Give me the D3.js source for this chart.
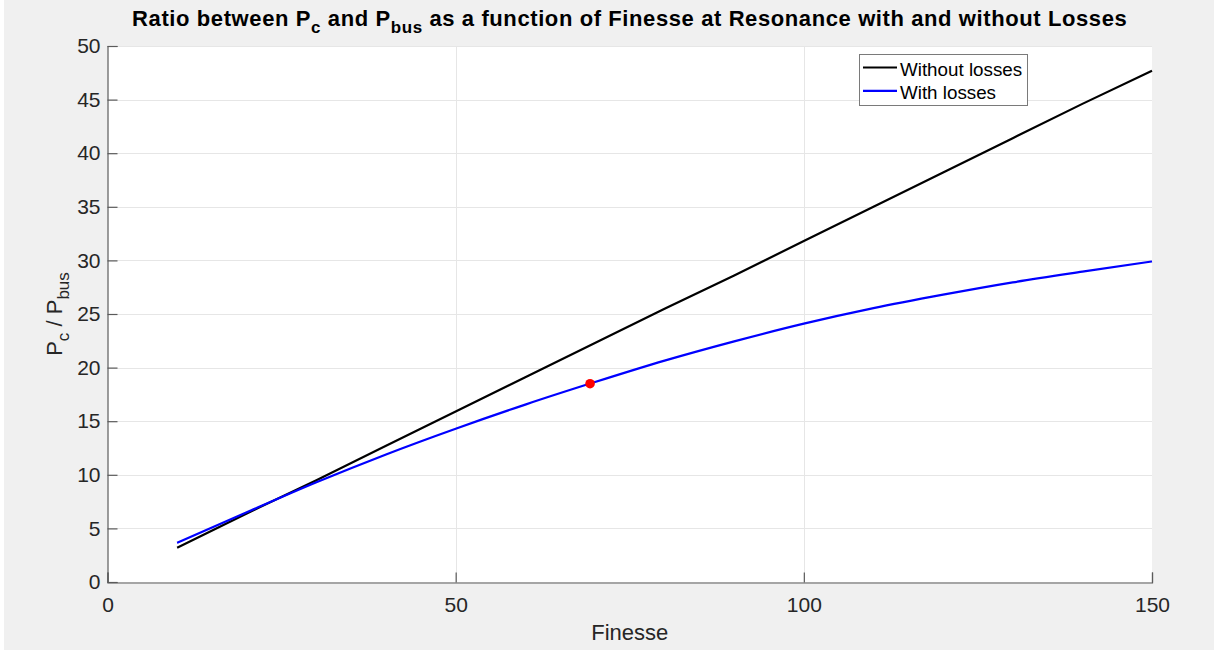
<!DOCTYPE html>
<html>
<head>
<meta charset="utf-8">
<script src="https://cdn.jsdelivr.net/npm/d3@7"></script>
<style>
  body { margin: 0; background: #fff; }
  svg text { font-family: "Liberation Sans", Arial, Helvetica, sans-serif; }
</style>
</head>
<body>
<svg id="chart" width="1214" height="653"></svg>
<script>
// values
const finesse = [10, 20, 30, 40, 50, 60, 70, 80, 90, 100, 110, 120, 130, 140, 150];
const withoutLosses = [3.2, 6.4, 9.5, 12.7, 15.9, 19.1, 22.3, 25.5, 28.6, 31.8, 35.0, 38.2, 41.4, 44.6, 47.7];
const withLosses = [3.65, 6.5, 9.3, 11.9, 14.3, 16.55, 18.65, 20.65, 22.45, 24.1, 25.55, 26.8, 27.95, 28.95, 29.9];
const marker = [69.3, 18.5];
const xTicks = [0, 50, 100, 150];
const yTicks = [0, 5, 10, 15, 20, 25, 30, 35, 40, 45, 50];
const legendLabels = ["Without losses", "With losses"];

const svg = d3.select("#chart");
const margin = { left: 107.5, right: 1152, top: 46, bottom: 582 };

// figure background
svg.append("rect")
    .attr("x", 4).attr("y", 0)
    .attr("width", 1210).attr("height", 650)
    .attr("fill", "#f0f0f0");

const x = d3.scaleLinear().domain([0, 150]).range([margin.left, margin.right]);
const y = d3.scaleLinear().domain([0, 50]).range([margin.bottom, margin.top]);

// axes area
svg.append("rect")
    .attr("x", x(0)).attr("y", y(50))
    .attr("width", x(150) - x(0)).attr("height", y(0) - y(50))
    .attr("fill", "#fff");

// grid
const grid = svg.append("g").attr("stroke", "#e6e6e6").attr("stroke-width", 1);
grid.selectAll(".gx").data(xTicks.filter(d => d > 0 && d < 150)).enter()
    .append("line")
    .attr("x1", d => Math.round(x(d)) + 0.5).attr("x2", d => Math.round(x(d)) + 0.5)
    .attr("y1", y(0)).attr("y2", y(50));
grid.selectAll(".gy").data(yTicks.filter(d => d > 0)).enter()
    .append("line")
    .attr("y1", d => Math.round(y(d)) + 0.5).attr("y2", d => Math.round(y(d)) + 0.5)
    .attr("x1", x(0)).attr("x2", x(150));

// axes with inward ticks
const xAxis = svg.append("g")
    .attr("transform", `translate(0,${y(0) + 0.5})`)
    .call(d3.axisBottom(x).tickValues(xTicks).tickSize(-10).tickPadding(14));
const yAxis = svg.append("g")
    .attr("transform", `translate(${x(0)},0)`)
    .call(d3.axisLeft(y).tickValues(yTicks).tickSize(-10).tickPadding(7));

[xAxis, yAxis].forEach(ax => {
    ax.select(".domain").attr("stroke", "#5a5a5a").attr("stroke-width", 1.2);
    ax.selectAll(".tick line").attr("stroke", "#5a5a5a").attr("stroke-width", 1.2);
    ax.selectAll(".tick text")
        .attr("font-size", 21)
        .attr("fill", "#262626")
        .attr("font-family", "Liberation Sans, Arial, sans-serif");
});
xAxis.selectAll(".tick text").attr("dy", "0.72em");

// lines
const line = d3.line().x(d => x(d[0])).y(d => y(d[1]));
const smooth = d3.line().x(d => x(d[0])).y(d => y(d[1])).curve(d3.curveMonotoneX);

svg.append("path")
    .datum(finesse.map((f, i) => [f, withoutLosses[i]]))
    .attr("d", line)
    .attr("fill", "none")
    .attr("stroke", "#000")
    .attr("stroke-width", 2.2);

svg.append("path")
    .datum(finesse.map((f, i) => [f, withLosses[i]]))
    .attr("d", smooth)
    .attr("fill", "none")
    .attr("stroke", "#0000ff")
    .attr("stroke-width", 2.2);

svg.append("circle")
    .attr("cx", x(marker[0])).attr("cy", y(marker[1]))
    .attr("r", 4.8)
    .attr("fill", "#ff0000");

// title with subscripts
const title = svg.append("text")
    .attr("x", (margin.left + margin.right) / 2)
    .attr("y", 26)
    .attr("text-anchor", "middle")
    .attr("font-size", 22)
    .attr("letter-spacing", 0.6)
    .attr("font-weight", "bold")
    .attr("fill", "#000");
title.append("tspan").text("Ratio between P");
title.append("tspan").attr("dy", 7).attr("font-size", 17).text("c");
title.append("tspan").attr("dy", -7).text(" and P");
title.append("tspan").attr("dy", 7).attr("font-size", 17).text("bus");
title.append("tspan").attr("dy", -7).text(" as a function of Finesse at Resonance with and without Losses");

// x label
svg.append("text")
    .attr("x", (margin.left + margin.right) / 2)
    .attr("y", 640)
    .attr("text-anchor", "middle")
    .attr("font-size", 22)
    .attr("fill", "#262626")
    .text("Finesse");

// y label
const ylab = svg.append("text")
    .attr("transform", `translate(62,${(margin.top + margin.bottom) / 2}) rotate(-90)`)
    .attr("text-anchor", "middle")
    .attr("font-size", 22)
    .attr("fill", "#262626");
ylab.append("tspan").text("P");
ylab.append("tspan").attr("dy", 7).attr("font-size", 17).text("c");
ylab.append("tspan").attr("dy", -7).text(" / P");
ylab.append("tspan").attr("dy", 7).attr("font-size", 17).text("bus");

// legend
const legend = svg.append("g").attr("transform", "translate(859,54)");
legend.append("rect")
    .attr("x", 0.5).attr("y", 0.5)
    .attr("width", 168).attr("height", 51)
    .attr("fill", "#fff")
    .attr("stroke", "#7a7a7a")
    .attr("stroke-width", 1);
const legendColors = ["#000", "#0000ff"];
legendLabels.forEach((label, i) => {
    const yy = 13.5 + i * 23.4;
    legend.append("line")
        .attr("x1", 4).attr("x2", 38)
        .attr("y1", yy).attr("y2", yy)
        .attr("stroke", legendColors[i])
        .attr("stroke-width", 2.2);
    legend.append("text")
        .attr("x", 41).attr("y", yy + 8.5)
        .attr("font-size", 18.8)
        .attr("fill", "#000")
        .text(label);
});
</script>
</body>
</html>
